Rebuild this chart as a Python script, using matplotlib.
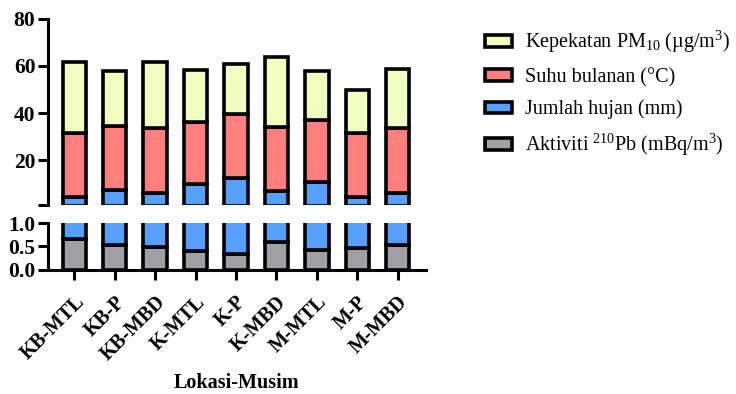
import matplotlib
matplotlib.use("Agg")
import matplotlib.pyplot as plt
import numpy as np

plt.rcParams["font.family"] = "Liberation Serif"
plt.rcParams["mathtext.fontset"] = "custom"
plt.rcParams["mathtext.rm"] = "Liberation Serif"
plt.rcParams["mathtext.it"] = "Liberation Serif:italic"
plt.rcParams["mathtext.bf"] = "Liberation Serif:bold"

lokasi = ["KB-MTL", "KB-P", "KB-MBD", "K-MTL", "K-P", "K-MBD", "M-MTL", "M-P", "M-MBD"]

# segment heights, stacked bottom to top
pb210 = [0.65, 0.53, 0.48, 0.40, 0.33, 0.59, 0.42, 0.46, 0.53]
hujan = [3.85, 6.90, 5.70, 9.50, 12.30, 6.50, 10.20, 4.00, 5.70]
suhu = [27.0, 27.2, 27.6, 26.2, 27.1, 27.2, 26.5, 27.0, 27.4]
pm10 = [30.0, 23.1, 28.0, 22.0, 21.3, 29.4, 20.9, 18.4, 25.3]

series = [
    (pb210, "#a0a0a4", "Aktiviti $^{210}$Pb (mBq/m$^3$)"),
    (hujan, "#569ffa", "Jumlah hujan (mm)"),
    (suhu, "#ff7f7f", "Suhu bulanan (°C)"),
    (pm10, "#f2fdc0", "Kepekatan PM$_{10}$ (µg/m$^3$)"),
]

fig = plt.figure(figsize=(7.36, 3.94), dpi=100)
ax_top = fig.add_axes([0.0652, 0.480, 0.5136, 0.472])
ax_bot = fig.add_axes([0.0652, 0.315, 0.5136, 0.119])

x = np.arange(len(lokasi))
lw = 2.6
handles = []
for ax in (ax_top, ax_bot):
    bottom = np.zeros(len(lokasi))
    for vals, col, lab in series:
        b = ax.bar(x, vals, width=0.58, bottom=bottom, color=col,
                   edgecolor="black", linewidth=lw, label=lab)
        bottom += np.array(vals)
        if ax is ax_top:
            handles.append(b)
    ax.set_xlim(-0.65, 8.7)
    for s in ("top", "right"):
        ax.spines[s].set_visible(False)
    ax.spines["left"].set_linewidth(2.2)
    ax.spines["bottom"].set_linewidth(2.2)
    ax.tick_params(axis="y", length=7, width=2.2, pad=2)

ax_top.set_ylim(1, 80)
ax_top.spines["bottom"].set_visible(False)
ax_top.set_yticks([1, 20, 40, 60, 80])
ax_top.set_yticklabels(["", "20", "40", "60", "80"], fontweight="bold", fontsize=15.5)
ax_top.tick_params(axis="x", bottom=False, labelbottom=False)

ax_bot.set_ylim(0, 1.0)
ax_bot.set_yticks([0, 0.5, 1.0])
ax_bot.set_yticklabels(["0.0", "0.5", "1.0"], fontweight="bold", fontsize=15.5)
ax_bot.set_xticks(x)
ax_bot.set_xticklabels(lokasi, rotation=45, ha="right", rotation_mode="anchor",
                       fontweight="bold", fontsize=14.5)
ax_bot.tick_params(axis="x", length=7, width=2.2, pad=9)

# axis title placed under the rotated labels
fig.text(0.322, 0.028, "Lokasi-Musim", ha="center", va="center",
         fontweight="bold", fontsize=14.5)

fig.legend(handles[::-1], [s[2] for s in series][::-1],
           loc="upper left", bbox_to_anchor=(0.635, 0.972), frameon=False,
           fontsize=14.5, handlelength=1.3, handleheight=0.5,
           handletextpad=0.65, labelspacing=0.62)

plt.savefig("out.png", dpi=100)
